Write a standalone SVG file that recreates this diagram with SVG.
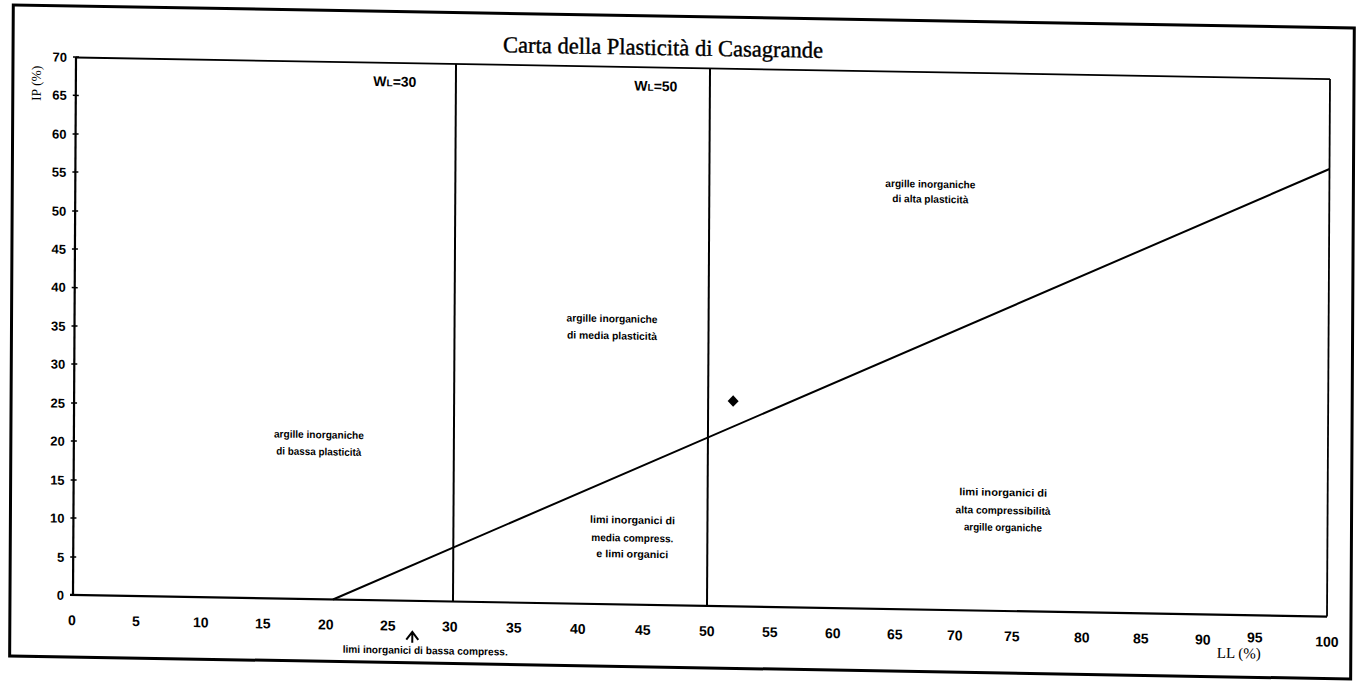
<svg xmlns="http://www.w3.org/2000/svg" width="1356" height="684" viewBox="0 0 1356 684">
<style>
.frame{fill:none;stroke:#000;stroke-width:3}
.ax{stroke:#000;stroke-width:2.2;fill:none}
.bd{stroke:#000;stroke-width:1.8;fill:none}
.ln{stroke:#000;stroke-width:2;fill:none}
.tk{stroke:#000;stroke-width:1.5}
.yl{font-family:"Liberation Sans",Arial,sans-serif;font-weight:bold;font-size:13px;text-anchor:end;fill:#000}
.xl{font-family:"Liberation Sans",Arial,sans-serif;font-weight:bold;font-size:14px;text-anchor:middle;fill:#000}
.rg{font-family:"Liberation Sans",Arial,sans-serif;font-weight:bold;font-size:10.5px;text-anchor:middle;fill:#000}
.wl{font-family:"Liberation Sans",Arial,sans-serif;font-weight:bold;font-size:14px;text-anchor:middle;fill:#000}
.ser{font-family:"Liberation Serif","Times New Roman",serif;fill:#000}
</style>
<rect width="1356" height="684" fill="#fff"/>
<g transform="matrix(1,0.0172,-0.0056,1,3.33,-1.256)">
  <rect class="frame" x="10" y="6" width="1341" height="651"/>
  <g id="title"><text class="ser" x="660" y="45" font-size="23" text-anchor="middle" textLength="320" lengthAdjust="spacingAndGlyphs" stroke="#000" stroke-width="0.4">Carta della Plasticità di Casagrande</text></g>
  <g id="plot-frame">
    <line class="bd" x1="73" y1="57.5" x2="1327" y2="57.5"/>
    <line class="bd" x1="1327" y1="57.5" x2="1327" y2="595"/>
    <line class="ax" x1="73" y1="57" x2="73" y2="596"/>
    <line class="ax" x1="70" y1="595" x2="1327" y2="595"/>
  </g>
  <g id="y-ticks">
    <path class="tk" d="M70,57H76M70,95.4H76M70,134H76M70,172H76M70,211H76M70,249H76M70,287.6H76M70,326H76M70,364H76M70,403H76M70,441H76M70,480H76M70,518H76M70,557H76"/>
  </g>
  <g id="y-labels">
    <text class="yl" x="64" y="62">70</text>
    <text class="yl" x="64" y="100">65</text>
    <text class="yl" x="64" y="139">60</text>
    <text class="yl" x="64" y="177">55</text>
    <text class="yl" x="64" y="216">50</text>
    <text class="yl" x="64" y="254">45</text>
    <text class="yl" x="64" y="292">40</text>
    <text class="yl" x="64" y="331">35</text>
    <text class="yl" x="64" y="369">30</text>
    <text class="yl" x="64" y="408">25</text>
    <text class="yl" x="64" y="446">20</text>
    <text class="yl" x="64" y="485">15</text>
    <text class="yl" x="64" y="523">10</text>
    <text class="yl" x="64" y="562">5</text>
    <text class="yl" x="64" y="600">0</text>
  </g>
  <g id="x-labels">
    <text class="xl" x="72" y="625">0</text>
    <text class="xl" x="136" y="625">5</text>
    <text class="xl" x="201" y="625">10</text>
    <text class="xl" x="263" y="625">15</text>
    <text class="xl" x="326" y="625">20</text>
    <text class="xl" x="388" y="625">25</text>
    <text class="xl" x="450" y="625">30</text>
    <text class="xl" x="514" y="625">35</text>
    <text class="xl" x="578" y="625">40</text>
    <text class="xl" x="643" y="625">45</text>
    <text class="xl" x="707" y="625">50</text>
    <text class="xl" x="770" y="625">55</text>
    <text class="xl" x="833" y="625">60</text>
    <text class="xl" x="895" y="625">65</text>
    <text class="xl" x="955" y="625">70</text>
    <text class="xl" x="1012" y="625">75</text>
    <text class="xl" x="1082" y="625">80</text>
    <text class="xl" x="1141" y="625">85</text>
    <text class="xl" x="1203" y="625">90</text>
    <text class="xl" x="1255" y="622">95</text>
    <text class="xl" x="1327" y="625">100</text>
  </g>
  <g id="axis-titles">
    <text class="ser" font-size="15" x="1239" y="638" text-anchor="middle">LL (%)</text>
    <text class="ser" font-size="13.5" transform="translate(38,84) rotate(-90)" text-anchor="middle">IP (%)</text>
  </g>
  <g id="connectors">
    <line class="ln" x1="453" y1="57.5" x2="453" y2="595"/>
    <line class="ln" x1="707" y1="57.5" x2="707" y2="595"/>
    <line class="ln" x1="333" y1="595" x2="1327" y2="147.4"/>
  </g>
  <g id="wl30"><text class="wl" x="392" y="81">W<tspan font-size="10">L</tspan>=30</text></g>
  <g id="wl50"><text class="wl" x="653" y="81">W<tspan font-size="10">L</tspan>=50</text></g>
  <g id="region-bassa-plasticita">
    <text class="rg" x="318" y="434" textLength="90" lengthAdjust="spacingAndGlyphs">argille inorganiche</text>
    <text class="rg" x="318" y="451" textLength="85" lengthAdjust="spacingAndGlyphs">di bassa plasticità</text>
  </g>
  <g id="region-media-plasticita">
    <text class="rg" x="610.5" y="313" textLength="91" lengthAdjust="spacingAndGlyphs">argille inorganiche</text>
    <text class="rg" x="610.5" y="330" textLength="90" lengthAdjust="spacingAndGlyphs">di media plasticità</text>
  </g>
  <g id="region-alta-plasticita">
    <text class="rg" x="928" y="173" textLength="90" lengthAdjust="spacingAndGlyphs">argille inorganiche</text>
    <text class="rg" x="928" y="188" textLength="76" lengthAdjust="spacingAndGlyphs">di alta plasticità</text>
  </g>
  <g id="region-media-compress">
    <text class="rg" x="632" y="514" textLength="85" lengthAdjust="spacingAndGlyphs">limi inorganici di</text>
    <text class="rg" x="632" y="532" textLength="82" lengthAdjust="spacingAndGlyphs">media compress.</text>
    <text class="rg" x="632" y="548" textLength="72" lengthAdjust="spacingAndGlyphs">e limi organici</text>
  </g>
  <g id="region-alta-compress">
    <text class="rg" x="1002.5" y="480" textLength="88" lengthAdjust="spacingAndGlyphs">limi inorganici di</text>
    <text class="rg" x="1002.5" y="498" textLength="95" lengthAdjust="spacingAndGlyphs">alta compressibilità</text>
    <text class="rg" x="1002.5" y="515" textLength="78" lengthAdjust="spacingAndGlyphs">argille organiche</text>
  </g>
  <g id="region-bassa-compress">
    <path class="ln" d="M406.5,634 L412.5,626 L418.5,634 M412.5,626 V637"/>
    <text class="rg" x="425.5" y="648" textLength="165" lengthAdjust="spacingAndGlyphs">limi inorganici di bassa compress.</text>
  </g>
  <g id="sample-point">
    <polygon points="732,384 737.5,389.7 732,395.5 726.5,389.7" fill="#000"/>
  </g>
</g>
</svg>
